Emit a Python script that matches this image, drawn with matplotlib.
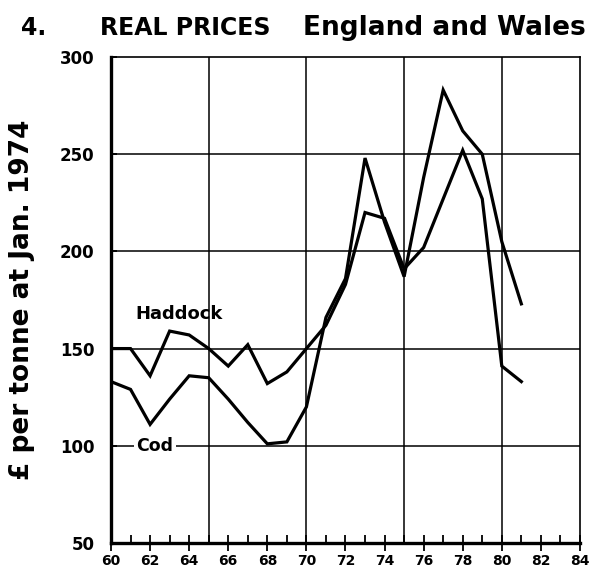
import matplotlib
matplotlib.use("Agg")
import matplotlib.pyplot as plt
from matplotlib.ticker import MultipleLocator, FixedLocator

years = list(range(60, 82))
haddock = [150, 150, 136, 159, 157, 150, 141, 152, 132, 138, 150, 162,
           183, 220, 217, 191, 202, 227, 252, 227, 141, 133]
cod = [133, 129, 111, 124, 136, 135, 124, 112, 101, 102, 120, 166,
       186, 248, 215, 187, 238, 283, 262, 250, 205, 173]

x_ticks = list(range(60, 85, 2))
y_ticks = [50, 100, 150, 200, 250, 300]

fig = plt.figure(figsize=(6.01, 5.75), dpi=100)
ax = fig.add_axes([0.1847, 0.0557, 0.7803, 0.8452])

ax.set_xlim(60, 84)
ax.set_ylim(50, 300)

# grid
for gx in [65, 70, 75, 80]:
    ax.axvline(gx, color="black", lw=1.1, zorder=1)
for gy in [100, 150, 200, 250]:
    ax.axhline(gy, color="black", lw=1.1, zorder=1)

ax.plot(years, haddock, color="black", lw=2.3, zorder=3, solid_joinstyle="miter")
ax.plot(years, cod, color="black", lw=2.3, zorder=3, solid_joinstyle="miter")

for s in ["left", "bottom"]:
    ax.spines[s].set_linewidth(2.4)
for s in ["top", "right"]:
    ax.spines[s].set_linewidth(1.2)

ax.xaxis.set_major_locator(FixedLocator(x_ticks))
ax.xaxis.set_minor_locator(MultipleLocator(1))
ax.set_xticklabels([str(t) for t in x_ticks], fontweight="bold", fontsize=10)
ax.tick_params(axis="x", which="major", direction="inout", length=12, width=1.3, pad=2)
ax.tick_params(axis="x", which="minor", direction="in", length=6, width=1.3)

ax.yaxis.set_major_locator(FixedLocator(y_ticks))
ax.set_yticklabels([str(t) for t in y_ticks], fontweight="bold", fontsize=12)
ax.tick_params(axis="y", which="major", direction="in", length=4, width=1.3, pad=12)

ax.text(61.25, 168, "Haddock", fontsize=13, fontweight="bold", ha="left", va="center", zorder=4)
ax.text(61.3, 100, "Cod", fontsize=12.5, fontweight="bold", ha="left", va="center", zorder=4,
        bbox=dict(facecolor="white", edgecolor="none", pad=2))

fig.text(0.037, 0.478, "£ per tonne at Jan. 1974", rotation=90, ha="center", va="center",
         fontsize=19, fontweight="bold")

fig.text(0.035, 0.951, "4.", fontsize=17, fontweight="bold", ha="left", va="center")
fig.text(0.167, 0.951, "REAL PRICES", fontsize=17, fontweight="bold", ha="left", va="center")
fig.text(0.975, 0.951, "England and Wales", fontsize=19, fontweight="bold", ha="right", va="center")

fig.savefig("out.png", dpi=100, facecolor="white")
